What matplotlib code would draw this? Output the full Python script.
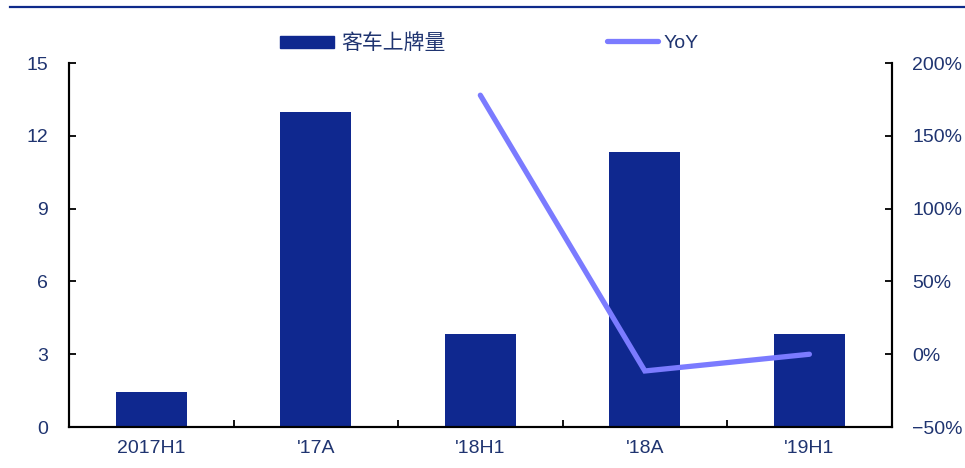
import matplotlib
matplotlib.use("Agg")
import matplotlib.pyplot as plt
from matplotlib import font_manager
from matplotlib.lines import Line2D
from matplotlib.ticker import FuncFormatter

# Data
categories = ["2017H1", "'17A", "'18H1", "'18A", "'19H1"]
plates = [1.45, 13.0, 3.85, 11.35, 3.85]          # 客车上牌量
yoy_cats = ["'18H1", "'18A", "'19H1"]
yoy = [178.0, -11.5, 0.0]                          # YoY, %

left_ticks = [0, 3, 6, 9, 12, 15]
right_ticks = [-50, 0, 50, 100, 150, 200]

bar_color = "#0f288f"
line_color = "#7b7bff"
text_color = "#1f3470"

names = {f.name for f in font_manager.fontManager.ttflist}
base = "Liberation Sans Narrow" if "Liberation Sans Narrow" in names else "Liberation Sans"
plt.rcParams["font.family"] = [base, "Noto Sans CJK SC", "DejaVu Sans"]

fig = plt.figure(figsize=(9.65, 4.68), dpi=100)
ax = fig.add_axes([0.0715, 0.0876, 0.8525, 0.7774])
ax2 = ax.twinx()

x = list(range(len(categories)))
ax.bar(x, plates, width=0.43, color=bar_color, zorder=2)
yoy_x = [categories.index(c) for c in yoy_cats]
ax2.plot(yoy_x, yoy, color=line_color, lw=3.8, solid_capstyle="round",
         solid_joinstyle="miter", zorder=3)

ax.set_xlim(-0.5, len(categories) - 0.5)
ax.set_ylim(0, 15)
ax2.set_ylim(-50, 200)
ax.set_yticks(left_ticks)
ax2.set_yticks(right_ticks)
ax2.yaxis.set_major_formatter(FuncFormatter(lambda v, p: f"{v:.0f}%".replace("-", "\u2212")))

ax.set_xticks(x)
ax.set_xticklabels(categories)
ax.set_xticks([i + 0.5 for i in range(len(categories) - 1)], minor=True)
ax.tick_params(axis="x", which="major", length=0, pad=9, labelsize=14, labelcolor=text_color)
ax.tick_params(axis="x", which="minor", direction="in", length=5, width=1.3, color="black")
ax.tick_params(axis="y", direction="in", length=5, width=1.3, pad=15, labelsize=14,
               labelcolor=text_color)
ax2.tick_params(axis="y", direction="in", length=5, width=1.3, pad=15, labelsize=14,
                labelcolor=text_color)

for a in (ax, ax2):
    a.spines["top"].set_visible(False)
    for s in ("left", "right", "bottom"):
        a.spines[s].set_linewidth(1.5)
        a.spines[s].set_color("black")

ax.set_zorder(ax2.get_zorder() - 1)
ax.patch.set_visible(True)
ax2.patch.set_visible(False)

# Legend: two entries placed separately above the plot
leg1 = fig.legend([plt.Rectangle((0, 0), 1, 1, color=bar_color)], ["客车上牌量"],
                  loc="center left", bbox_to_anchor=(0.290, 0.908), frameon=False,
                  fontsize=15, handlelength=2.6, handleheight=0.5, handletextpad=0.35,
                  borderpad=0, borderaxespad=0)
leg2 = fig.legend([Line2D([0], [0], color=line_color, lw=3.8, solid_capstyle="round")],
                  ["YoY"], loc="center left", bbox_to_anchor=(0.629, 0.908), frameon=False,
                  fontsize=14, handlelength=2.6, handletextpad=0.3,
                  borderpad=0, borderaxespad=0)
for leg in (leg1, leg2):
    for t in leg.get_texts():
        t.set_color(text_color)

# Header rule across the top
fig.add_artist(Line2D([0.01, 1.0], [0.986, 0.986], transform=fig.transFigure,
                      color="#0e2a8a", lw=1.6))

fig.savefig("out.png", dpi=100)
